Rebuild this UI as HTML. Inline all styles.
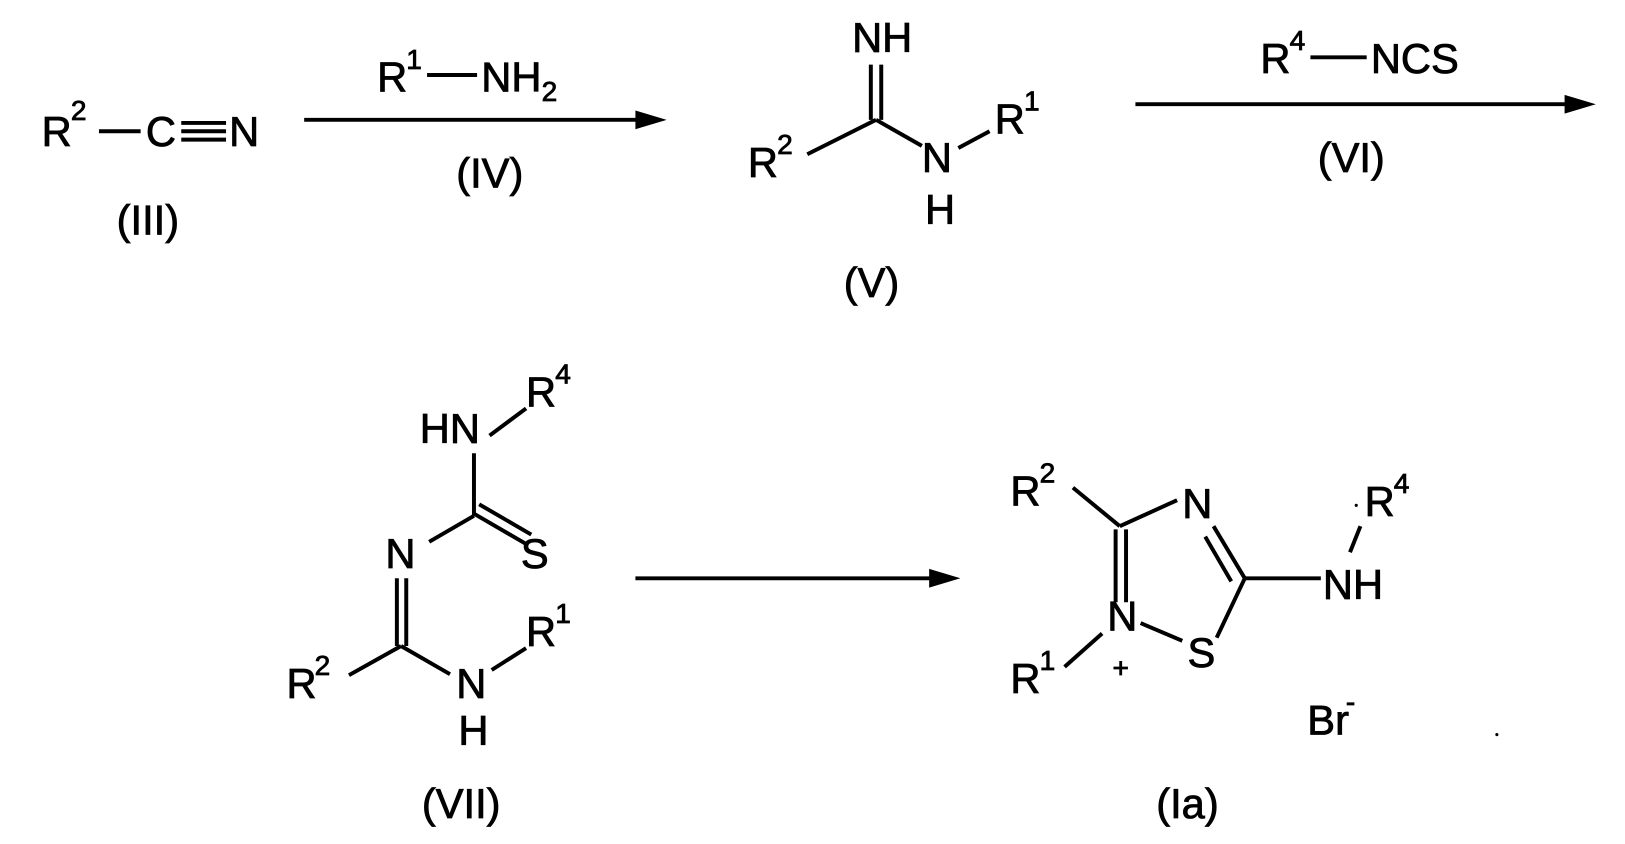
<!DOCTYPE html>
<html><head><meta charset="utf-8"><style>
html,body{margin:0;padding:0;background:#fff;}
svg{display:block}
text{font-family:"Liberation Sans",Arial,sans-serif;font-size:40px;fill:#000;stroke:#000;stroke-width:0.8}
.s{font-size:27px}
line{stroke:#000;stroke-width:3.8}
</style></head><body>
<svg width="1625" height="844" viewBox="0 0 1560 810" preserveAspectRatio="none" xmlns="http://www.w3.org/2000/svg">
<!-- III -->
<text x="40" y="140">R</text><text class="s" x="68" y="115">2</text>
<line x1="95" y1="126" x2="135" y2="126"/>
<text x="140" y="140">C</text>
<line x1="174" y1="118" x2="217" y2="118"/><line x1="174" y1="126" x2="217" y2="126"/><line x1="174" y1="134" x2="217" y2="134"/>
<text x="220" y="140">N</text>
<text x="112" y="225">(III)</text>
<!-- arrow 1 -->
<line x1="292" y1="115" x2="615" y2="115"/><polygon points="640,115 610,106 610,124" fill="#000"/>
<text x="362" y="88">R</text><text class="s" x="390" y="66">1</text>
<line x1="410" y1="72" x2="458" y2="72"/>
<text x="462" y="88">NH</text><text class="s" x="520" y="97">2</text>
<text x="438" y="180">(IV)</text>
<!-- V -->
<text x="818" y="50">NH</text>
<line x1="836" y1="62" x2="836" y2="115"/><line x1="846" y1="62" x2="846" y2="115"/>
<line x1="841" y1="115" x2="775" y2="148"/>
<line x1="841" y1="115" x2="885" y2="140"/>
<text x="718" y="170">R</text><text class="s" x="746" y="148">2</text>
<text x="885" y="165">N</text>
<line x1="920" y1="142" x2="950" y2="126"/>
<text x="955" y="128">R</text><text class="s" x="983" y="106">1</text>
<text x="888" y="215">H</text>
<text x="810" y="285">(V)</text>
<!-- arrow 2 -->
<line x1="1090" y1="100" x2="1505" y2="100"/><polygon points="1532,100 1502,91 1502,109" fill="#000"/>
<text x="1210" y="70">R</text><text class="s" x="1238" y="48">4</text>
<line x1="1258" y1="55" x2="1312" y2="55"/>
<text x="1316" y="70">NCS</text>
<text x="1265" y="165">(VI)</text>
<!-- VII -->
<text x="403" y="425">HN</text>
<line x1="470" y1="418" x2="505" y2="392"/>
<text x="505" y="390">R</text><text class="s" x="533" y="368">4</text>
<line x1="455" y1="435" x2="455" y2="495"/>
<line x1="455" y1="493" x2="505" y2="522"/><line x1="460" y1="484" x2="510" y2="513"/>
<text x="500" y="545">S</text>
<line x1="455" y1="495" x2="412" y2="520"/>
<text x="370" y="545">N</text>
<line x1="381" y1="555" x2="381" y2="620"/><line x1="390" y1="555" x2="390" y2="620"/>
<line x1="385" y1="620" x2="335" y2="648"/>
<line x1="385" y1="620" x2="432" y2="647"/>
<text x="275" y="670">R</text><text class="s" x="302" y="648">2</text>
<text x="438" y="670">N</text>
<line x1="472" y1="643" x2="505" y2="622"/>
<text x="505" y="620">R</text><text class="s" x="533" y="598">1</text>
<text x="440" y="715">H</text>
<text x="405" y="785">(VII)</text>
<!-- arrow 3 -->
<line x1="610" y1="555" x2="895" y2="555"/><polygon points="922,555 892,546 892,564" fill="#000"/>
<!-- Ia -->
<text x="970" y="485">R</text><text class="s" x="998" y="463">2</text>
<line x1="1030" y1="468" x2="1075" y2="505"/>
<line x1="1075" y1="505" x2="1130" y2="480"/>
<text x="1135" y="497">N</text>
<line x1="1165" y1="505" x2="1195" y2="555"/><line x1="1157" y1="515" x2="1182" y2="558"/>
<line x1="1195" y1="555" x2="1268" y2="555"/>
<text x="1270" y="575">NH</text>
<line x1="1195" y1="555" x2="1168" y2="612"/>
<text x="1140" y="640">S</text>
<line x1="1135" y1="615" x2="1095" y2="598"/>
<line x1="1071" y1="508" x2="1071" y2="578"/><line x1="1081" y1="508" x2="1081" y2="578"/>
<text x="1063" y="605">N</text>
<text x="1068" y="650" class="s">+</text>
<line x1="1058" y1="608" x2="1022" y2="640"/>
<text x="970" y="665">R</text><text class="s" x="998" y="643">1</text>
<line x1="1296" y1="530" x2="1306" y2="505"/>
<circle cx="1302" cy="485" r="1.5"/>
<text x="1310" y="495">R</text><text class="s" x="1338" y="473">4</text>
<text x="1255" y="705">Br</text><text class="s" x="1292" y="683">-</text>
<text x="1110" y="785">(Ia)</text>
<circle cx="1437" cy="705" r="1.5"/>
</svg>
</body></html>
